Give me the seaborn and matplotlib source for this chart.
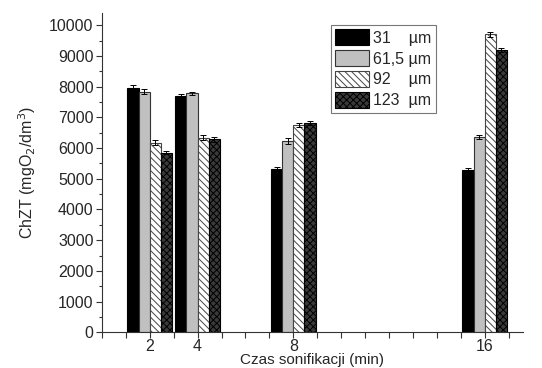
import matplotlib
matplotlib.use("Agg")
import matplotlib.pyplot as plt
import seaborn as sns
import pandas as pd
from matplotlib.ticker import MultipleLocator, FixedLocator
from matplotlib.patches import Patch

# ---- data ----
times = [2, 4, 8, 16]
series_labels = ["31    µm", "61,5 µm", "92    µm", "123  µm"]
v31 = [7950, 7700, 5320, 5280]
v615 = [7840, 7780, 6220, 6350]
v92 = [6170, 6340, 6740, 9700]
v123 = [5850, 6280, 6820, 9200]
e31 = [90, 60, 50, 70]
e615 = [80, 50, 90, 70]
e92 = [80, 90, 70, 80]
e123 = [60, 70, 60, 60]
y_ticks = [0, 1000, 2000, 3000, 4000, 5000, 6000, 7000, 8000, 9000, 10000]

values = [v31, v615, v92, v123]
errors = [e31, e615, e92, e123]

rows = []
for lab, vals in zip(series_labels, values):
    for t, v in zip(times, vals):
        rows.append({"time": t, "value": v, "size": lab})
df = pd.DataFrame(rows)

sns.set_style("ticks")
plt.rcParams["font.family"] = ["Liberation Sans", "DejaVu Sans"]
plt.rcParams["hatch.linewidth"] = 0.7

face = ["#000000", "#c0c0c0", "#ffffff", "#3a3a3a"]
hatches = [None, None, "\\\\\\\\\\", "xxxxx"]
hatch_edge = ["black", "#333333", "#444444", "black"]
fs = 11.5

fig = plt.figure(figsize=(5.42, 3.68), dpi=100)
ax = fig.add_axes([0.188, 0.097, 0.777, 0.868])

sns.barplot(data=df, x="time", y="value", hue="size", hue_order=series_labels,
            native_scale=True, width=0.93, gap=0, palette=face,
            edgecolor="black", linewidth=0.8, errorbar=None, legend=False,
            saturation=1, ax=ax)

bar_conts = list(ax.containers)
handles = []
for i, cont in enumerate(bar_conts):
    xs, ys = [], []
    for bar in cont.patches:
        bar.set_facecolor(face[i])
        bar.set_edgecolor(hatch_edge[i])
        if hatches[i]:
            bar.set_hatch(hatches[i])
        xs.append(bar.get_x() + bar.get_width() / 2)
        ys.append(bar.get_height())
    ax.errorbar(xs, ys, yerr=errors[i], fmt="none", ecolor="black",
                elinewidth=0.7, capsize=2.5, capthick=0.7, zorder=5)
    handles.append(Patch(facecolor=face[i], edgecolor=hatch_edge[i],
                         hatch=hatches[i], linewidth=0.8, label=series_labels[i]))

ax.set_xlim(0, 17.6)
ax.set_ylim(0, 10400)
ax.xaxis.set_major_locator(FixedLocator(times))
ax.set_xticklabels([str(t) for t in times])
ax.xaxis.set_minor_locator(MultipleLocator(1))
ax.set_yticks(y_ticks)
ax.yaxis.set_minor_locator(MultipleLocator(500))
ax.tick_params(axis="both", which="both", direction="out", length=4,
               width=0.8, labelsize=fs, pad=2, color="#333333")
ax.tick_params(axis="x", which="both", pad=1)
ax.tick_params(axis="y", which="minor", length=2.5)
sns.despine(ax=ax)
for s in ["left", "bottom"]:
    ax.spines[s].set_linewidth(0.8)
    ax.spines[s].set_color("#333333")

ax.set_xlabel("Czas sonifikacji (min)", fontsize=11, labelpad=-1)
ax.set_ylabel("ChZT (mgO$_2$/dm$^3$)", fontsize=fs, labelpad=8)

leg = ax.legend(handles=handles, loc="upper left", bbox_to_anchor=(0.543, 0.963),
                frameon=True, fancybox=False, edgecolor="#555555",
                fontsize=fs, handlelength=2.1, handleheight=1.15,
                handletextpad=0.25, labelspacing=0.28, borderpad=0.3,
                borderaxespad=0)
leg.get_frame().set_linewidth(0.8)

fig.savefig("out.png", dpi=100)
